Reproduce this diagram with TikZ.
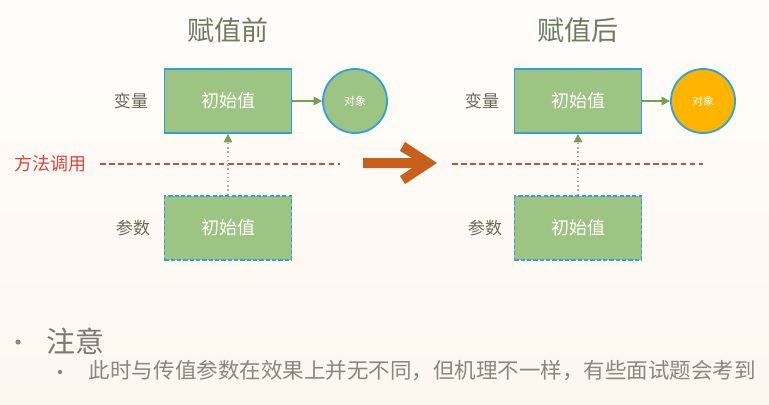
\documentclass[tikz,border=0pt]{standalone}
\usepackage{fontspec}
\setmainfont{Noto Sans CJK SC}
\usetikzlibrary{arrows.meta}
\definecolor{boxgreen}{HTML}{9DC482}
\definecolor{edgeblue}{HTML}{2FA2DA}
\definecolor{objorange}{HTML}{FFB500}
\definecolor{arrowgreen}{HTML}{74A052}
\definecolor{dotgray}{HTML}{A3AC96}
\definecolor{callred}{HTML}{D9473C}
\definecolor{bigorange}{HTML}{C8601B}
\definecolor{titlegreen}{HTML}{6D7B60}
\definecolor{labelgray}{HTML}{6A6A5C}
\definecolor{notegray}{HTML}{8A877D}
\tikzstyle{valbox} = [rectangle, minimum width=3.175cm, minimum height=1.6cm, fill=boxgreen, draw=edgeblue, line width=1.3pt, text=white, font=\fontsize{12.8}{14}\selectfont]
\tikzstyle{parbox} = [valbox, dash pattern=on 3pt off 1.5pt]
\tikzstyle{obj} = [circle, minimum size=1.6cm, inner sep=0pt, fill=boxgreen, draw=edgeblue, line width=1.3pt, text=white, font=\fontsize{7.8}{9}\selectfont]
\tikzstyle{tag} = [text=labelgray, font=\fontsize{12.1}{14}\selectfont]
\tikzstyle{title} = [text=titlegreen, font=\fontsize{19.2}{22}\selectfont]
\tikzstyle{arrow} = [line width=1pt, draw=arrowgreen, -{Triangle[length=6pt,width=6pt,color=arrowgreen]}]
\tikzstyle{passarrow} = [arrow, draw=dotgray, dotted]
\tikzstyle{callline} = [draw=callred, line width=0.8pt, dash pattern=on 4pt off 2.5pt]

\begin{document}
\begin{tikzpicture}[x=0.025cm, y=-0.025cm]
    \useasboundingbox (0,0) rectangle (769,404);
    \shade[top color=white!60!black!4!orange!2, bottom color=black!7!orange!6] (0,0) rectangle (769,404);
    % before assignment
    \node[title] (titleA) at (228,30) {赋值前};
    \node[valbox] (varA) at (228,101) {初始值};
    \node[obj] (objA) at (355,101) {对象};
    \node[parbox] (parA) at (228,228) {初始值};
    \node[tag] (varlabA) at (131,101) {变量};
    \node[tag] (parlabA) at (133,228) {参数};
    \node[text=callred, font=\fontsize{12.8}{14}\selectfont] (call) at (50,164) {方法调用};
    \draw[callline] (100,164) -- (340,164);
    \draw[arrow] (varA) -- (objA);
    \draw[passarrow] (parA) -- (varA);
    % big arrow
    \fill[bigorange] (363,158) -- (412,158) -- (400,151) -- (405,142) -- (437,163)
        -- (405,184) -- (400,176) -- (412,168) -- (363,168) -- cycle;
    % after assignment
    \node[title] (titleB) at (578,30) {赋值后};
    \node[valbox] (varB) at (578,101) {初始值};
    \node[obj, fill=objorange] (objB) at (703,101) {对象};
    \node[parbox] (parB) at (578,228) {初始值};
    \node[tag] (varlabB) at (482,101) {变量};
    \node[tag] (parlabB) at (485,228) {参数};
    \draw[callline] (452,164) -- (703,164);
    \draw[arrow] (varB) -- (objB);
    \draw[passarrow] (parB) -- (varB);
    % note
    \fill[notegray] (18,342) circle (2.6);
    \node[anchor=west, text=notegray!90!black, font=\fontsize{20.6}{24}\selectfont] (note) at (42,341) {注意};
    \fill[notegray] (60,372) circle (2.2);
    \node[anchor=west, text=notegray, font=\fontsize{15.3}{18}\selectfont] (notetext) at (84,371) {此时与传值参数在效果上并无不同，但机理不一样，有些面试题会考到};
\end{tikzpicture}
\end{document}
